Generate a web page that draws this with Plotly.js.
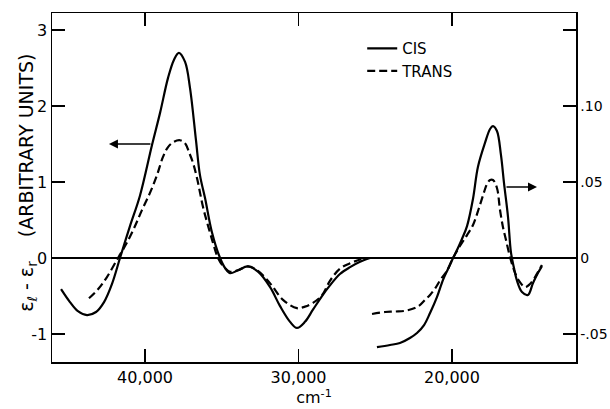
<!DOCTYPE html>
<html>
<head>
<meta charset="utf-8">
<script src="https://cdn.plot.ly/plotly-3.0.1.min.js"></script>
<style>html,body{margin:0;padding:0;background:#fff;}#chart{width:610px;height:409px;}</style>
</head>
<body>
<div id="chart"></div>
<script>
// ---- data (wavenumber in cm^-1, CD signal) ----
// UV region, left axis (arbitrary units)
const cisUvX = [45470,44890,44370,43780,43190,42670,42150,41630,40980,40330,39540,39020,38500,38110,37790,37390,37070,36680,36420,36090,35640,35110,34790,34460,33940,33290,32640,31860,31210,30550,30100,29580,29060,28470,27950,27300,26640,25990,25340];
const cisUvY = [-0.41,-0.58,-0.70,-0.75,-0.71,-0.58,-0.34,0,0.42,0.82,1.49,1.91,2.37,2.61,2.70,2.58,2.24,1.55,1.09,0.79,0.34,0,-0.13,-0.20,-0.16,-0.11,-0.18,-0.38,-0.63,-0.84,-0.92,-0.84,-0.68,-0.50,-0.36,-0.21,-0.12,-0.05,0];
const transUvX = [43650,43060,42480,41760,41240,40720,40200,39670,39220,38830,38500,38110,37720,37390,37130,36870,36610,36220,35900,35570,35240,34850,34460,33940,33290,32640,31860,31010,30100,29580,29060,28470,27950,27300,26640,25990,25470];
const transUvY = [-0.53,-0.41,-0.25,0,0.18,0.39,0.63,0.86,1.09,1.33,1.46,1.53,1.55,1.51,1.39,1.25,1.05,0.67,0.43,0.20,0,-0.12,-0.18,-0.16,-0.11,-0.17,-0.33,-0.55,-0.66,-0.64,-0.59,-0.49,-0.30,-0.14,-0.07,-0.02,0];
// visible region, right axis
const cisVisX = [24890,24040,23390,22740,22280,21820,21430,20980,20590,20260,19930,19610,19350,19020,18630,18310,17850,17520,17330,17070,16810,16610,16350,16160,15960,15760,15440,15050,14720,14400,14140];
const cisVisY = [-0.0586,-0.0572,-0.0559,-0.0526,-0.0493,-0.0441,-0.0362,-0.0257,-0.0145,-0.0072,0,0.0066,0.0125,0.0210,0.0390,0.0599,0.0757,0.0849,0.0868,0.0836,0.0678,0.0493,0.0270,0.0039,-0.0066,-0.0151,-0.0224,-0.0243,-0.0164,-0.0099,-0.0053];
const transVisX = [25210,24370,23710,22930,22210,21760,21430,21040,20720,20330,19930,19480,19020,18630,18240,17910,17720,17520,17330,17070,16870,16680,16480,16220,15960,15630,15240,14920,14660,14400,14140];
const transVisY = [-0.0368,-0.0355,-0.0352,-0.0345,-0.0319,-0.0276,-0.0243,-0.0191,-0.0138,-0.0086,0,0.0079,0.0151,0.0217,0.0329,0.0434,0.0487,0.0513,0.0513,0.0461,0.0316,0.0204,0.0118,0.0007,-0.0079,-0.0151,-0.0191,-0.0171,-0.0138,-0.0092,-0.0046];
// tick labels
const xTickVals = [40000,30000,20000];
const xTickText = ["40,000","30,000","20,000"];
const yTickVals = [-1,0,1,2,3];
const yTickText = ["-1","0","1","2","3"];
const y2TickVals = [-0.05,0,0.05,0.10,0.15];
const y2TickText = ["-.05","0",".05",".10"," "];
const seriesNames = ["CIS","TRANS"];
const yTitleText = "ε<sub>ℓ</sub> - ε<sub>r</sub>    (ARBITRARY UNITS)";
const xTitleText = "cm<sup>-1</sup>";
// axis-indicator arrows: [x, y] of head
const arrowLeft = [42350, 1.5];
const arrowRight = [14460, 0.0467];

const FONT = "DejaVu Sans, Arial, sans-serif";
const solid = {color:"#000", width:2.2, shape:"spline", smoothing:1};
const dashed = {color:"#000", width:2.2, dash:"8px,4px", shape:"spline", smoothing:1};

const traces = [
  {x:cisUvX, y:cisUvY, mode:"lines", line:solid, name:seriesNames[0], legendgroup:"cis", showlegend:true, yaxis:"y"},
  {x:transUvX, y:transUvY, mode:"lines", line:dashed, name:seriesNames[1], legendgroup:"trans", showlegend:true, yaxis:"y"},
  {x:cisVisX, y:cisVisY, mode:"lines", line:solid, name:seriesNames[0], legendgroup:"cis", showlegend:false, yaxis:"y2"},
  {x:transVisX, y:transVisY, mode:"lines", line:dashed, name:seriesNames[1], legendgroup:"trans", showlegend:false, yaxis:"y2"}
];

const axisCommon = {showgrid:false, showline:true, linecolor:"#000", linewidth:1.5, ticks:"inside", ticklen:13, tickwidth:1.2, tickcolor:"#000", tickfont:{family:FONT, size:16, color:"#000"}};

const layout = {
  width:610, height:409,
  margin:{l:52, r:34, t:13, b:47},
  paper_bgcolor:"#fff", plot_bgcolor:"#fff",
  font:{family:FONT, color:"#000"},
  showlegend:true,
  legend:{x:0.592, y:0.945, xanchor:"left", yanchor:"top", bgcolor:"rgba(0,0,0,0)", borderwidth:0, tracegroupgap:0, font:{family:FONT, size:15, color:"#000"}},
  xaxis:Object.assign({}, axisCommon, {range:[46060,11920], tickvals:xTickVals, ticktext:xTickText, mirror:"ticks", zeroline:false,
    title:{text:xTitleText, font:{family:FONT, size:16, color:"#000"}, standoff:4}}),
  yaxis:Object.assign({}, axisCommon, {range:[-1.368,3.224], tickvals:yTickVals, ticktext:yTickText, zeroline:true, zerolinecolor:"#000", zerolinewidth:1.3}),
  yaxis2:Object.assign({}, axisCommon, {range:[-0.0684,0.1612], tickvals:y2TickVals, ticktext:y2TickText, overlaying:"y", side:"right", zeroline:false,
    tickfont:{family:FONT, size:14, color:"#000"}}),
  annotations:[
    {xref:"paper", yref:"paper", x:-0.046, y:0.513, xanchor:"center", yanchor:"middle", textangle:-90, showarrow:false,
     text:yTitleText, font:{family:FONT, size:19, color:"#000"}},
    {x:arrowLeft[0], y:arrowLeft[1], xref:"x", yref:"y", ax:43, ay:0, text:"", showarrow:true, arrowhead:2, arrowsize:1.2, arrowwidth:1.5, arrowcolor:"#000"},
    {x:arrowRight[0], y:arrowRight[1], xref:"x", yref:"y2", ax:-32, ay:0, text:"", showarrow:true, arrowhead:2, arrowsize:1.2, arrowwidth:1.5, arrowcolor:"#000"}
  ]
};

Plotly.newPlot("chart", traces, layout, {displayModeBar:false, staticPlot:true});
</script>
</body>
</html>
